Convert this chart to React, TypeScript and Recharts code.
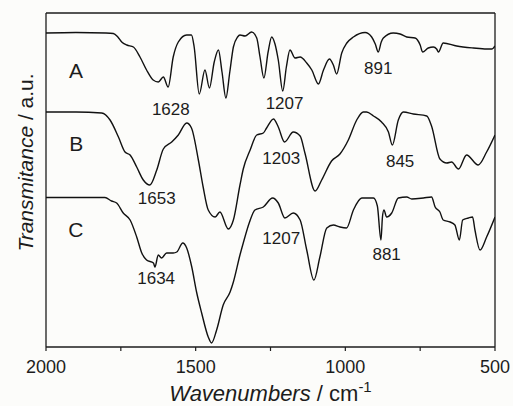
import React from 'react';
import { LineChart, Line, XAxis, YAxis, ReferenceLine, ReferenceDot } from 'recharts';

// Wavenumber (cm-1), transmittance (a.u., offset per trace)
const curveA: [number, number][] = [
  [2000, 314], [1900, 314.5], [1800, 314], [1775, 313.5], [1760, 310], [1747, 305], [1730, 302], [1708, 300],
  [1686, 290], [1664, 277], [1642, 267], [1625, 265], [1608, 270], [1592, 260], [1575, 290], [1558, 305],
  [1530, 312], [1514, 312], [1505, 300], [1488, 253], [1469, 277], [1454, 259], [1438, 285], [1424, 297],
  [1412, 275], [1399, 249], [1386, 275], [1374, 300], [1360, 310], [1352, 312], [1335, 311], [1313, 315],
  [1296, 309], [1285, 290], [1272, 269], [1258, 295], [1246, 310], [1235, 303], [1224, 287], [1209, 256],
  [1197, 280], [1185, 297], [1168, 289], [1151, 290], [1129, 284], [1112, 277], [1090, 263], [1073, 277],
  [1053, 288], [1040, 282], [1029, 273], [1012, 294], [995, 304], [973, 310], [934, 314.5], [912, 310],
  [900, 303], [890, 295], [880, 305], [873, 309], [840, 314], [817, 313], [795, 310], [767, 309],
  [750, 302], [742, 295], [723, 299], [706, 300], [695, 298], [689, 295], [673, 304], [628, 301],
  [572, 299], [528, 298], [510, 298], [500, 301],
];

const curveB: [number, number][] = [
  [2000, 235], [1900, 235], [1814, 234], [1786, 227], [1758, 210], [1736, 195], [1719, 192], [1697, 180],
  [1675, 167], [1653, 162], [1630, 177], [1608, 198], [1580, 205], [1558, 212], [1530, 224], [1514, 219],
  [1491, 187], [1475, 160], [1458, 137], [1435, 130], [1419, 135], [1391, 118], [1374, 127], [1352, 162],
  [1341, 178], [1318, 197], [1296, 212], [1274, 214], [1263, 219], [1240, 228], [1224, 220], [1203, 205],
  [1174, 215], [1151, 211], [1135, 194], [1101, 156], [1079, 167], [1046, 186], [1018, 193], [990, 207],
  [962, 227], [940, 235], [929, 235], [906, 231], [879, 225], [856, 215], [843, 202], [823, 227],
  [806, 235], [773, 233], [728, 231], [712, 221], [684, 188], [661, 184], [645, 185], [622, 178],
  [595, 192], [556, 182], [528, 195], [500, 212],
];

const curveC: [number, number][] = [
  [2000, 149.5], [1900, 149.5], [1803, 149.5], [1781, 146], [1764, 144], [1742, 134], [1719, 127], [1697, 110],
  [1680, 94], [1664, 87], [1641, 84], [1636, 80], [1625, 92], [1614, 89], [1597, 94], [1575, 94],
  [1563, 95], [1543, 104], [1530, 99], [1513, 80], [1497, 55], [1480, 34], [1458, 10], [1447, 4],
  [1430, 17], [1408, 42], [1385, 55], [1374, 65], [1352, 92], [1341, 104], [1320, 125], [1302, 137],
  [1274, 140], [1243, 149], [1224, 144], [1202, 129], [1174, 134], [1151, 127], [1129, 97], [1105, 67],
  [1085, 90], [1062, 119], [1040, 122], [1018, 120], [996, 119], [973, 137], [945, 149], [906, 149],
  [893, 141], [881, 107], [876, 130], [871, 137], [862, 130], [845, 134], [823, 149], [795, 150],
  [778, 148], [739, 149], [712, 150], [700, 140], [684, 135], [673, 127], [650, 125], [634, 122],
  [619, 107], [608, 127], [589, 129], [575, 130], [567, 117], [550, 97], [528, 110], [500, 130],
];

const xTicks = [2000, 1750, 1500, 1250, 1000, 750, 500];

const peakLabels: { text: string; w: number; t: number }[] = [
  { text: '1628', w: 1583, t: 238.5 },
  { text: '1207', w: 1203, t: 243.7 },
  { text: '891', w: 890, t: 279.5 },
  { text: '1653', w: 1630, t: 149 },
  { text: '1203', w: 1214, t: 188.7 },
  { text: '845', w: 817, t: 186.5 },
  { text: '1634', w: 1632, t: 69.5 },
  { text: '1207', w: 1214, t: 108.7 },
  { text: '881', w: 862, t: 93.3 },
];

const traceLabels: { text: string; w: number; t: number }[] = [
  { text: 'A', w: 1900, t: 276 },
  { text: 'B', w: 1899, t: 203.5 },
  { text: 'C', w: 1900, t: 117.5 },
];

const toRows = (a: [number, number][]) => a.map(([w, t]) => ({ w, t }));

const FONT = 'Arial, "Liberation Sans", sans-serif';
const INK = '#1c1c1c';

export default function App() {
  return (
    <div style={{ position: 'absolute', left: 0, top: 0, width: 513, height: 406, background: '#fcfcfa' }}>
      <LineChart width={513} height={406} margin={{ top: 13, right: 18, bottom: 29, left: 46 }}>
        <XAxis
          type="number"
          dataKey="w"
          domain={[500, 2000]}
          reversed
          ticks={xTicks}
          interval={0}
          allowDataOverflow
          tickFormatter={(v: number) => (v % 500 === 0 ? String(v) : '')}
          tickSize={4}
          tickMargin={9}
          height={30}
          axisLine={{ stroke: INK, strokeWidth: 1.3 }}
          tickLine={{ stroke: INK, strokeWidth: 1.2 }}
          tick={{ fill: INK, fontSize: 18, fontFamily: FONT }}
        />
        <YAxis hide type="number" domain={[0, 334]} allowDataOverflow />
        <ReferenceLine x={2000} stroke={INK} strokeWidth={1.3} />
        <ReferenceLine x={500} stroke={INK} strokeWidth={1.3} />
        <ReferenceLine y={334} stroke={INK} strokeWidth={1.3} />
        <Line data={toRows(curveA)} dataKey="t" type="monotone" stroke="#111" strokeWidth={1.4} dot={false} isAnimationActive={false} />
        <Line data={toRows(curveB)} dataKey="t" type="monotone" stroke="#111" strokeWidth={1.4} dot={false} isAnimationActive={false} />
        <Line data={toRows(curveC)} dataKey="t" type="monotone" stroke="#111" strokeWidth={1.4} dot={false} isAnimationActive={false} />
        {peakLabels.map((p, i) => (
          <ReferenceDot
            key={'p' + i}
            x={p.w}
            y={p.t}
            r={0}
            fill="none"
            stroke="none"
            label={{ value: p.text, position: 'center', fill: INK, fontSize: 17, fontFamily: FONT }}
          />
        ))}
        {traceLabels.map((p, i) => (
          <ReferenceDot
            key={'t' + i}
            x={p.w}
            y={p.t}
            r={0}
            fill="none"
            stroke="none"
            label={{ value: p.text, position: 'center', fill: INK, fontSize: 21, fontFamily: FONT }}
          />
        ))}
        <text x={270.5} y={401} textAnchor="middle" fill={INK} fontSize={22} fontFamily={FONT}>
          <tspan fontStyle="italic">Wavenumbers</tspan>
          <tspan> / cm</tspan>
          <tspan dy={-9} fontSize={15}>-1</tspan>
        </text>
        <text
          x={33}
          y={162.5}
          transform="rotate(-90, 33, 162.5)"
          textAnchor="middle"
          fill={INK}
          fontSize={21}
          fontFamily={FONT}
        >
          <tspan fontStyle="italic">Transmitance</tspan>
          <tspan> / a.u.</tspan>
        </text>
      </LineChart>
    </div>
  );
}
